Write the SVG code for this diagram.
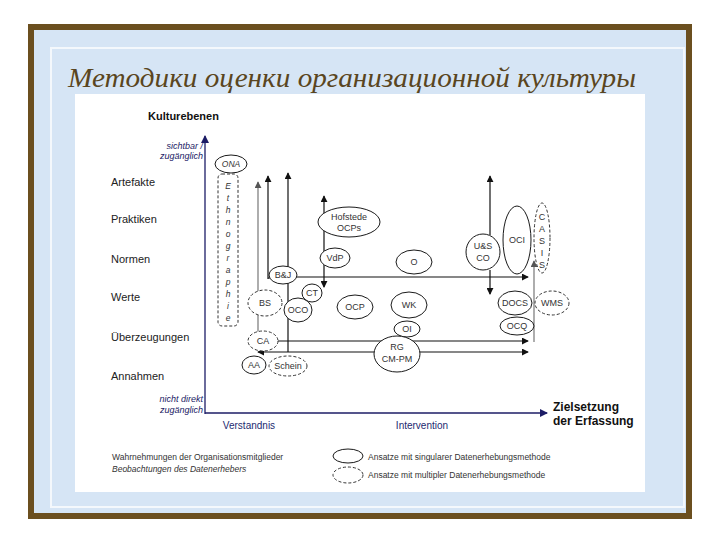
<svg xmlns="http://www.w3.org/2000/svg" width="720" height="540" viewBox="0 0 720 540">
<defs>
<marker id="ah" viewBox="0 0 8 8" refX="7" refY="4" markerWidth="7" markerHeight="7" markerUnits="userSpaceOnUse" orient="auto-start-reverse">
<path d="M0,0 L8,4 L0,8 z" fill="#111"/>
</marker>
<marker id="ahg" viewBox="0 0 8 8" refX="7" refY="4" markerWidth="7" markerHeight="7" markerUnits="userSpaceOnUse" orient="auto-start-reverse">
<path d="M0,0 L8,4 L0,8 z" fill="#555"/>
</marker>
<marker id="ahn" viewBox="0 0 8 8" refX="7" refY="4" markerWidth="8" markerHeight="8" markerUnits="userSpaceOnUse" orient="auto-start-reverse">
<path d="M0,0 L8,4 L0,8 z" fill="#1c1c66"/>
</marker>
<style>
.s{fill:#fff;stroke:#1a1a1a;stroke-width:1}
.d{fill:#fff;stroke:#333;stroke-width:1;stroke-dasharray:3,2}
.t{font-family:"Liberation Sans",Arial,sans-serif;font-size:9px;fill:#333;text-anchor:middle}
.r{font-family:"Liberation Sans",Arial,sans-serif;font-size:11px;fill:#222}
.nv{font-family:"Liberation Sans",Arial,sans-serif;font-size:9px;fill:#1c1c66;font-style:italic;text-anchor:end}
.ax{font-family:"Liberation Sans",Arial,sans-serif;font-size:10px;fill:#1c2a70;text-anchor:middle}
.b{font-family:"Liberation Sans",Arial,sans-serif;font-weight:bold;fill:#111}
.lg{font-family:"Liberation Sans",Arial,sans-serif;font-size:8.5px;fill:#333}
.c{stroke:#111;stroke-width:1.2;fill:none}
.cg{stroke:#777;stroke-width:1.2;fill:none}
.el{font-family:"Liberation Sans",Arial,sans-serif;font-size:8.5px;fill:#333;font-style:italic;text-anchor:middle}
</style>
</defs>

<!-- slide frame -->
<rect x="0" y="0" width="720" height="540" fill="#fff"/>
<rect x="31" y="27" width="658" height="489" fill="#d6e5f5" stroke="#6b4f1f" stroke-width="6"/>
<rect x="51" y="48" width="633" height="459" fill="none" stroke="#f4f8fc" stroke-width="2"/>
<rect x="75" y="94" width="570" height="398" fill="#fff"/>
<text x="68" y="87" font-family="'Liberation Serif','Times New Roman',serif" font-style="italic" font-size="28" fill="#5a4520" textLength="568" lengthAdjust="spacingAndGlyphs">Методики оценки организационной культуры</text>

<!-- axis labels -->
<text class="b" x="148" y="120" font-size="11">Kulturebenen</text>
<text class="nv" x="203" y="149">sichtbar /</text>
<text class="nv" x="203" y="159">zugänglich</text>
<text class="nv" x="203" y="402">nicht direkt</text>
<text class="nv" x="203" y="413">zugänglich</text>
<text class="r" x="111" y="186">Artefakte</text>
<text class="r" x="111" y="223">Praktiken</text>
<text class="r" x="111" y="263">Normen</text>
<text class="r" x="111" y="301">Werte</text>
<text class="r" x="111" y="341">Überzeugungen</text>
<text class="r" x="111" y="380">Annahmen</text>
<text class="ax" x="249" y="429">Verstandnis</text>
<text class="ax" x="422" y="429">Intervention</text>
<text class="b" x="553" y="411" font-size="12">Zielsetzung</text>
<text class="b" x="553" y="425" font-size="12">der Erfassung</text>

<!-- connectors -->
<g id="connectors">
<line x1="205" y1="414" x2="205" y2="136" stroke="#1c1c66" stroke-width="1.3" marker-end="url(#ahn)"/>
<line x1="205" y1="413" x2="547" y2="413" stroke="#1c1c66" stroke-width="1.3" marker-end="url(#ahn)"/>
<line class="cg" x1="258" y1="332" x2="258" y2="182" marker-end="url(#ahg)"/>
<line class="c" x1="268" y1="278" x2="270" y2="278"/>
<line class="c" x1="268" y1="279" x2="268" y2="176" marker-end="url(#ah)"/>
<line class="c" x1="288" y1="352" x2="288" y2="173" marker-end="url(#ah)"/>
<line class="c" x1="324" y1="287" x2="324" y2="196" marker-start="url(#ah)" marker-end="url(#ah)"/>
<line class="c" x1="296" y1="277" x2="528" y2="277" marker-end="url(#ah)"/>
<line class="c" x1="490" y1="235" x2="490" y2="176" marker-end="url(#ah)"/>
<line class="c" x1="490" y1="270" x2="490" y2="294" marker-end="url(#ah)"/>
<line class="c" x1="278" y1="341" x2="528" y2="341" marker-end="url(#ah)"/>
<line class="c" x1="258" y1="352" x2="528" y2="352" marker-start="url(#ah)" marker-end="url(#ah)"/>
<line class="cg" x1="534" y1="342" x2="534" y2="261" marker-end="url(#ahg)"/>
</g>

<!-- nodes -->
<g id="ONA"><ellipse class="s" cx="231" cy="164" rx="16" ry="9"/><text class="el" x="231" y="167">ONA</text></g>
<g id="Ethnographie"><rect class="d" x="218" y="174" width="20" height="152" rx="4"/>
<text class="el" x="228" y="189">E</text><text class="el" x="228" y="201">t</text><text class="el" x="228" y="213">h</text><text class="el" x="228" y="225">n</text><text class="el" x="228" y="237">o</text><text class="el" x="228" y="249">g</text><text class="el" x="228" y="261">r</text><text class="el" x="228" y="273">a</text><text class="el" x="228" y="285">p</text><text class="el" x="228" y="297">h</text><text class="el" x="228" y="309">i</text><text class="el" x="228" y="321">e</text></g>
<g id="BJ"><ellipse class="s" cx="283" cy="275" rx="14" ry="9"/><text class="t" x="283" y="278">B&amp;J</text></g>
<g id="BS"><ellipse class="d" cx="265" cy="303" rx="17" ry="13"/><text class="t" x="265" y="306">BS</text></g>
<g id="CT"><ellipse class="s" cx="312" cy="293" rx="10" ry="9"/><text class="t" x="312" y="296">CT</text></g>
<g id="OCO"><ellipse class="s" cx="298" cy="310" rx="14" ry="12"/><text class="t" x="298" y="313">OCO</text></g>
<g id="CA"><ellipse class="d" cx="263" cy="341" rx="15" ry="10"/><text class="t" x="263" y="344">CA</text></g>
<g id="AA"><ellipse class="s" cx="254" cy="365" rx="12" ry="9"/><text class="t" x="254" y="368">AA</text></g>
<g id="Schein"><ellipse class="d" cx="288" cy="366" rx="19" ry="10"/><text class="t" x="288" y="369">Schein</text></g>
<g id="Hofstede"><ellipse class="s" cx="349" cy="222" rx="31" ry="15"/><text class="t" x="349" y="220">Hofstede</text><text class="t" x="349" y="231">OCPs</text></g>
<g id="VdP"><ellipse class="s" cx="335" cy="258" rx="15" ry="10"/><text class="t" x="335" y="261">VdP</text></g>
<g id="O"><ellipse class="s" cx="414" cy="262" rx="18" ry="12"/><text class="t" x="414" y="265">O</text></g>
<g id="OCP"><ellipse class="s" cx="355" cy="307" rx="18" ry="12"/><text class="t" x="355" y="310">OCP</text></g>
<g id="WK"><ellipse class="s" cx="409" cy="305" rx="18" ry="13"/><text class="t" x="409" y="308">WK</text></g>
<g id="OI"><ellipse class="s" cx="407" cy="329" rx="13" ry="8"/><text class="t" x="407" y="332">OI</text></g>
<g id="RG"><ellipse class="s" cx="397" cy="354" rx="23" ry="18"/><text class="t" x="397" y="350">RG</text><text class="t" x="397" y="362">CM-PM</text></g>
<g id="US"><ellipse class="s" cx="483" cy="252" rx="17" ry="18"/><text class="t" x="483" y="249">U&amp;S</text><text class="t" x="483" y="261">CO</text></g>
<g id="OCI"><ellipse class="s" cx="517" cy="240" rx="14" ry="34"/><text class="t" x="517" y="243">OCI</text></g>
<g id="CASIS"><ellipse class="d" cx="542" cy="238" rx="8" ry="35"/>
<text class="t" x="542" y="220" font-size="8">C</text><text class="t" x="542" y="232" font-size="8">A</text><text class="t" x="542" y="244" font-size="8">S</text><text class="t" x="542" y="256" font-size="8">I</text><text class="t" x="542" y="268" font-size="8">S</text></g>
<g id="DOCS"><ellipse class="s" cx="515" cy="303" rx="17" ry="12"/><text class="t" x="515" y="306">DOCS</text></g>
<g id="WMS"><ellipse class="d" cx="552" cy="303" rx="17" ry="12"/><text class="t" x="552" y="306">WMS</text></g>
<g id="OCQ"><ellipse class="s" cx="517" cy="326" rx="17" ry="9"/><text class="t" x="517" y="329">OCQ</text></g>

<!-- legend -->
<g id="legend">
<text class="lg" x="112" y="460">Wahrnehmungen der Organisationsmitglieder</text>
<text class="lg" x="112" y="472" font-style="italic">Beobachtungen des Datenerhebers</text>
<ellipse class="s" cx="348" cy="456" rx="15" ry="7"/>
<ellipse class="d" cx="348" cy="475" rx="15" ry="8"/>
<text class="lg" x="368" y="460">Ansatze mit singularer Datenerhebungsmethode</text>
<text class="lg" x="368" y="478">Ansatze mit multipler Datenerhebungsmethode</text>
</g>
</svg>
